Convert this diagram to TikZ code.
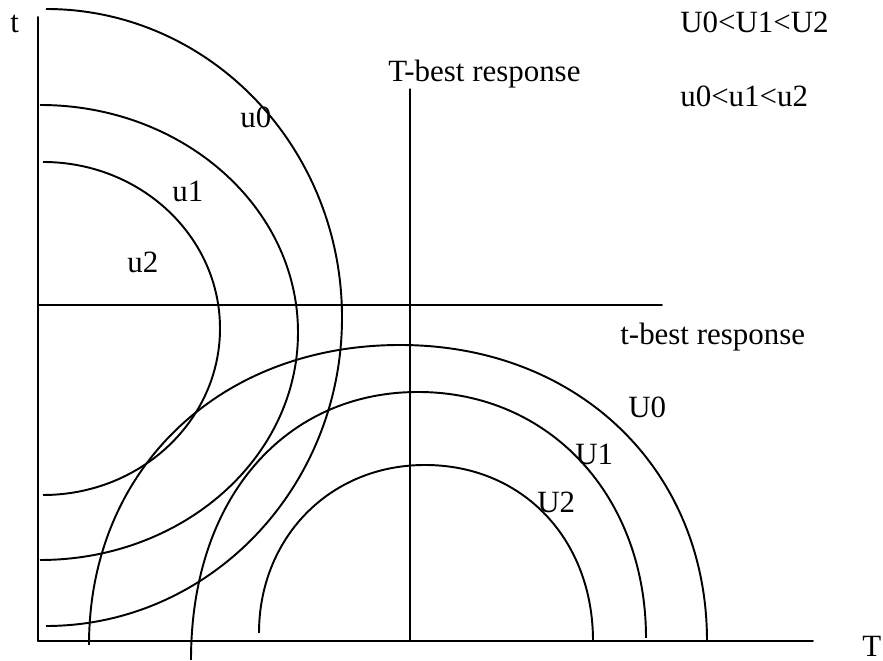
\documentclass[tikz,border=0pt]{standalone}
\usepackage{fontspec}
\setmainfont{Liberation Serif}
\usepackage{tkz-euclide}

\begin{document}
\begin{tikzpicture}[x=0.2mm,y=0.2mm,
  curve/.style={line width=1.1pt,color=black},
  lbl/.style={inner sep=0pt,anchor=base west,font=\fontsize{17.6pt}{21pt}\selectfont}]
\useasboundingbox (0,0) rectangle (883,661);
\tkzSetUpLine[line width=1.1pt,color=black]

\tkzDefPoints{38/20/O,813/20/Tx,38/644/ty,38/356/A,662/356/B,410/20/C,410/572/D}

% axes and the two best responses
\tkzDrawSegments(O,Tx O,ty A,B)
\tkzDrawSegments[line width=0.6pt](C,D)

% u curves (round the t axis)
\draw[curve] (46,652) arc[start angle=90,end angle=-90,x radius=59.2mm,y radius=61.7mm];
\draw[curve] (40,556) arc[start angle=90,end angle=-90,x radius=51.6mm,y radius=45.5mm];
\draw[curve] (43,499) arc[start angle=90,end angle=-90,x radius=35.4mm,y radius=33.3mm];

% U curves (round the T axis)
\draw[curve] (707,20) .. controls (707,191.7) and (578.1,316) .. (400,316)
  .. controls (219.6,316) and (89,191.7) .. (89,16);
\draw[curve] (646,23) .. controls (646,164.4) and (550.2,269) .. (418,269)
  .. controls (286.3,269) and (191,164.4) .. (191,1);
\draw[curve] (593,20) .. controls (593,122.1) and (522.4,196) .. (425,196)
  .. controls (328.7,196) and (259,122.1) .. (259,28);

\node[lbl] (tlab) at (10,628) {t};
\node[lbl] (Tlab) at (862,4) {T};
\node[lbl] (Tbest) at (388,579) {T-best response};
\node[lbl] (tbest) at (620,316) {t-best response};
\node[lbl] (Uord) at (680,628) {U0<U1<U2};
\node[lbl] (uord) at (680,554) {u0<u1<u2};
\node[lbl] (lu0) at (240,533) {u0};
\node[lbl] (lu1) at (172,459) {u1};
\node[lbl] (lu2) at (127,388) {u2};
\node[lbl] (lU0) at (628,243) {U0};
\node[lbl] (lU1) at (575,196) {U1};
\node[lbl] (lU2) at (537,148) {U2};

\end{tikzpicture}
\end{document}
